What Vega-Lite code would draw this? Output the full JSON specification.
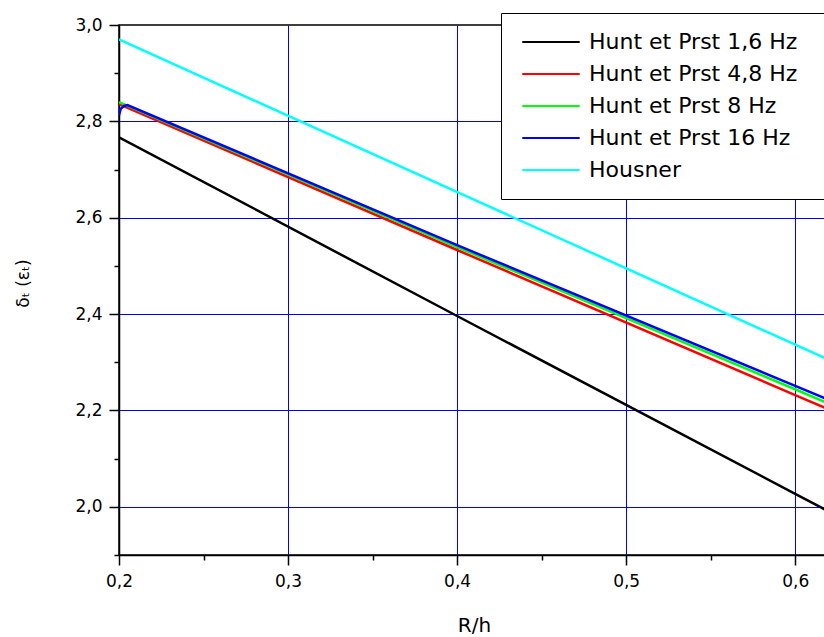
{
  "$schema": "https://vega.github.io/schema/vega-lite/v6.json",
  "width": 710,
  "height": 530,
  "autosize": {"type": "none"},
  "padding": {"left": 119, "top": 25, "right": 0, "bottom": 82},
  "background": "white",
  "config": {
    "font": "DejaVu Sans",
    "view": {"stroke": "black", "strokeWidth": 1.5},
    "axis": {
      "domainColor": "black",
      "domainWidth": 1.5,
      "tickColor": "black",
      "tickWidth": 1.5,
      "gridColor": "#0000ff",
      "gridWidth": 1,
      "labelColor": "black",
      "labelFont": "DejaVu Sans",
      "labelFontSize": 17,
      "titleFont": "DejaVu Sans",
      "titleFontWeight": "normal",
      "titleColor": "black"
    }
  },
  "data": {
    "values": [
      {"x": 0.2, "y": 2.767, "s": "Hunt et Prst 1,6 Hz"},
      {"x": 0.4, "y": 2.396, "s": "Hunt et Prst 1,6 Hz"},
      {"x": 0.6, "y": 2.027, "s": "Hunt et Prst 1,6 Hz"},
      {"x": 0.62, "y": 1.99, "s": "Hunt et Prst 1,6 Hz"},
      {"x": 0.2, "y": 2.836, "s": "\u00a0Hunt et Prst 4,8 Hz"},
      {"x": 0.4, "y": 2.533, "s": "\u00a0Hunt et Prst 4,8 Hz"},
      {"x": 0.6, "y": 2.232, "s": "\u00a0Hunt et Prst 4,8 Hz"},
      {"x": 0.62, "y": 2.202, "s": "\u00a0Hunt et Prst 4,8 Hz"},
      {"x": 0.2, "y": 2.840, "s": "\u00a0Hunt et Prst 8 Hz"},
      {"x": 0.4, "y": 2.539, "s": "\u00a0Hunt et Prst 8 Hz"},
      {"x": 0.6, "y": 2.244, "s": "\u00a0Hunt et Prst 8 Hz"},
      {"x": 0.62, "y": 2.214, "s": "\u00a0Hunt et Prst 8 Hz"},
      {"x": 0.2, "y": 2.813, "s": "\u00a0Hunt et Prst 16 Hz"},
      {"x": 0.201, "y": 2.826, "s": "\u00a0Hunt et Prst 16 Hz"},
      {"x": 0.203, "y": 2.832, "s": "\u00a0Hunt et Prst 16 Hz"},
      {"x": 0.205, "y": 2.834, "s": "\u00a0Hunt et Prst 16 Hz"},
      {"x": 0.4, "y": 2.543, "s": "\u00a0Hunt et Prst 16 Hz"},
      {"x": 0.6, "y": 2.251, "s": "\u00a0Hunt et Prst 16 Hz"},
      {"x": 0.62, "y": 2.222, "s": "\u00a0Hunt et Prst 16 Hz"},
      {"x": 0.2, "y": 2.970, "s": "\u00a0Housner"},
      {"x": 0.62, "y": 2.305, "s": "\u00a0Housner"}
    ]
  },
  "mark": {"type": "line", "strokeWidth": 2.5, "clip": true},
  "encoding": {
    "x": {
      "field": "x",
      "type": "quantitative",
      "scale": {"domain": [0.2, 0.62], "nice": false, "zero": false},
      "axis": {
        "title": "R/h",
        "titleFontSize": 20,
        "titleY": 76,
        "titleBaseline": "alphabetic",
        "values": [0.2, 0.25, 0.3, 0.35, 0.4, 0.45, 0.5, 0.55, 0.6],
        "labelExpr": "abs(datum.value*10 - round(datum.value*10)) < 0.001 ? replace(format(datum.value, '.1f'), '.', ',') : ''",
        "tickSize": {"condition": {"test": "abs(datum.value*10 - round(datum.value*10)) < 0.001", "value": 10}, "value": 5},
        "gridOpacity": {"condition": {"test": "abs(datum.value*10 - round(datum.value*10)) < 0.001 && datum.value > 0.25", "value": 1}, "value": 0},
        "labelPadding": 8,
        "labelFlush": false,
        "labelOverlap": false
      }
    },
    "y": {
      "field": "y",
      "type": "quantitative",
      "scale": {"domain": [1.9, 3.0], "nice": false, "zero": false},
      "axis": {
        "title": "δₜ (εₜ)",
        "titleFontSize": 17,
        "titleX": -96,
        "titleY": 258,
        "titleAlign": "center",
        "titleBaseline": "middle",
        "values": [1.9, 2.0, 2.1, 2.2, 2.3, 2.4, 2.5, 2.6, 2.7, 2.8, 2.9, 3.0],
        "labelExpr": "abs(datum.value*5 - round(datum.value*5)) < 0.001 ? replace(format(datum.value, '.1f'), '.', ',') : ''",
        "tickSize": {"condition": {"test": "abs(datum.value*5 - round(datum.value*5)) < 0.001", "value": 10}, "value": 5},
        "gridOpacity": {"condition": {"test": "abs(datum.value*5 - round(datum.value*5)) < 0.001 && datum.value < 2.95", "value": 1}, "value": 0},
        "labelPadding": 7,
        "labelFlush": false,
        "labelOverlap": false
      }
    },
    "color": {
      "field": "s",
      "type": "nominal",
      "sort": ["Hunt et Prst 1,6 Hz", "\u00a0Hunt et Prst 4,8 Hz", "\u00a0Hunt et Prst 8 Hz", "\u00a0Hunt et Prst 16 Hz", "\u00a0Housner"],
      "scale": {
        "domain": ["Hunt et Prst 1,6 Hz", "\u00a0Hunt et Prst 4,8 Hz", "\u00a0Hunt et Prst 8 Hz", "\u00a0Hunt et Prst 16 Hz", "\u00a0Housner"],
        "range": ["#000000", "#ff0000", "#00ff00", "#0000ff", "#00ffff"]
      },
      "legend": {
        "title": "·",
        "titleOpacity": 0,
        "titleOrient": "right",
        "titlePadding": 14,
        "titleFontSize": 10,
        "orient": "none",
        "legendX": 382,
        "legendY": -12,
        "direction": "vertical",
        "padding": 13,
        "symbolOffset": 7,
        "clipHeight": 32,
        "strokeColor": "black",
        "fillColor": "white",
        "symbolType": "stroke",
        "symbolSize": 3300,
        "symbolStrokeWidth": 2,
        "labelFontSize": 22,
        "labelFont": "DejaVu Sans",
        "labelColor": "black",
        "labelOffset": 8,
        "rowPadding": 0,
        "labelLimit": 500
      }
    }
  }
}
